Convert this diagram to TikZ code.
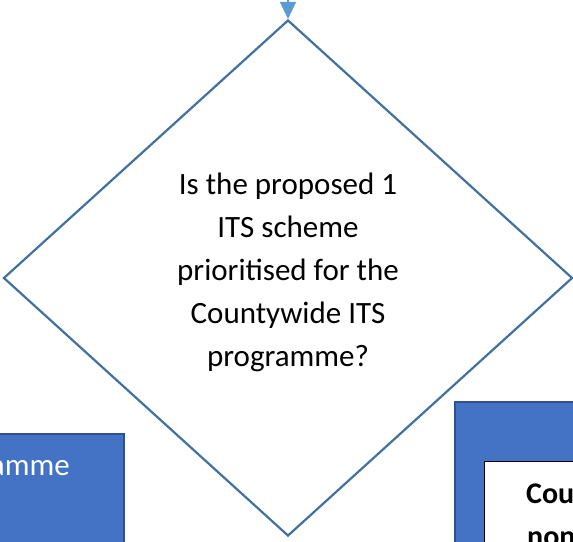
\documentclass[tikz,border=0pt]{standalone}
\usepackage{fontspec}
\setmainfont{Carlito}
\usetikzlibrary{positioning, arrows.meta, shapes.geometric}
\definecolor{Edge}{HTML}{41719C}
\definecolor{Flow}{HTML}{5B9BD5}
\definecolor{Fill}{HTML}{4472C4}
\definecolor{Rim}{HTML}{2F528F}
\tikzset{
    decision/.style={diamond, draw=Edge, line width=2.2pt, inner sep=0pt},
    bluebox/.style={rectangle, fill=Fill, draw=Rim, line width=1.8pt, inner sep=0pt},
    whitebox/.style={rectangle, fill=white, draw=black, line width=1.4pt, inner sep=0pt},
    boxtext/.style={inner sep=0pt, font=\fontsize{31}{43}\selectfont},
    flow/.style={-{Triangle[width=16pt,length=17pt]}, line width=1.5pt, color=Flow},
}

\begin{document}
\begin{tikzpicture}[x=1pt, y=-1pt]
    \useasboundingbox (0,0) rectangle (573,541);
    \clip (0,0) rectangle (573,541);
    % decision
    \node[decision, minimum width=569pt, minimum height=516pt] (q) at (288,278) {};
    \node[boxtext, align=center, below=-6pt of q.center, anchor=center] (qtxt)
        {Is the proposed 1\\ITS scheme\\prioritised for the\\Countywide ITS\\programme?};
    \coordinate (in) at (288,-10);
    \draw[flow] (in) -- (q.north);
    % left branch box
    \node[bluebox, anchor=north east, minimum width=240pt, minimum height=160pt] (left) at (125,433) {};
    \node[boxtext, text=white, anchor=base east] (lefttxt) at (70,475) {amme};
    % right branch box
    \node[bluebox, anchor=north west, minimum width=160pt, minimum height=180pt] (right) at (454,401) {};
    \node[whitebox, anchor=north west, minimum width=120pt, minimum height=120pt] (inner) at (484,461) {};
    \node[boxtext, anchor=base west, font=\fontsize{30}{43}\selectfont\bfseries] (righttxt) at (526,503) {Cou};
    \node[boxtext, anchor=base west, font=\fontsize{30}{43}\selectfont\bfseries] (righttxt2) at (527,546) {non};
\end{tikzpicture}
\end{document}
